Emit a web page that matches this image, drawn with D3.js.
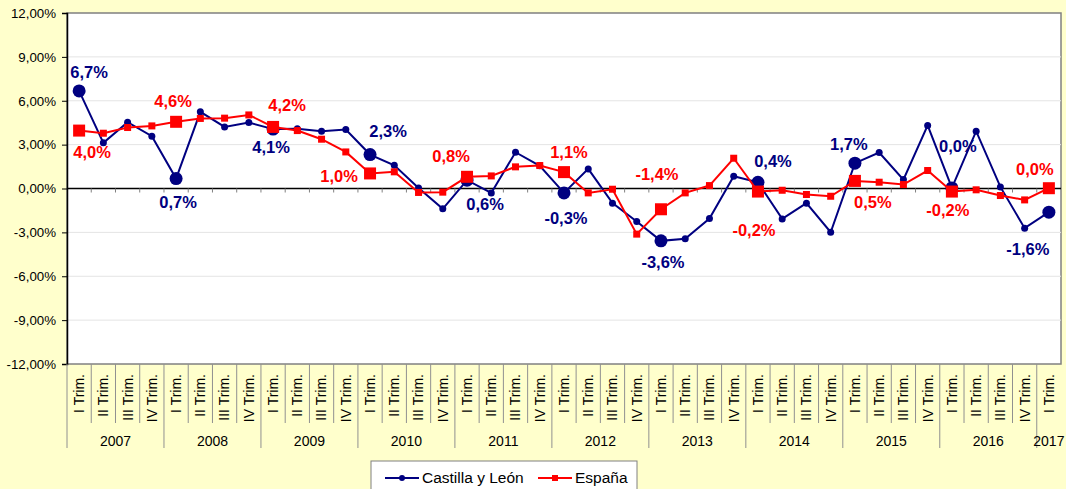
<!DOCTYPE html>
<html>
<head>
<meta charset="utf-8">
<script src="https://cdn.jsdelivr.net/npm/d3@7"></script>
<style>
  body { margin: 0; background: #FFFFCC; }
  svg { display: block; font-family: "Liberation Sans", Arial, sans-serif; }
</style>
</head>
<body>
<svg id="chart" width="1066" height="489"></svg>
<script>
// data
const years = ['2007', '2008', '2009', '2010', '2011', '2012', '2013', '2014', '2015', '2016', '2017'];
const trims = ['I Trim.', 'II Trim.', 'III Trim.', 'IV Trim.'];
const castilla = [
    6.67, 3.12, 4.53, 3.58,
    0.68, 5.24, 4.21, 4.51,
    4.06, 4.08, 3.92, 4.03,
    2.32, 1.59, 0.04, -1.39,
    0.57, -0.30, 2.48, 1.55,
    -0.30, 1.34, -1.00, -2.26,
    -3.58, -3.44, -2.05, 0.84,
    0.42, -2.08, -1.00, -2.99,
    1.73, 2.46, 0.61, 4.31,
    0.04, 3.92, 0.11, -2.71,
    -1.62
];
const espana = [
    3.96, 3.78, 4.17, 4.28,
    4.56, 4.79, 4.81, 5.03,
    4.21, 3.96, 3.37, 2.50,
    1.03, 1.14, -0.27, -0.25,
    0.80, 0.86, 1.48, 1.57,
    1.12, -0.30, -0.05, -3.12,
    -1.42, -0.30, 0.20, 2.07,
    -0.21, -0.12, -0.41, -0.53,
    0.52, 0.43, 0.27, 1.23,
    -0.21, -0.09, -0.48, -0.78,
    0.02
];
const yTicks = [-12, -9, -6, -3, 0, 3, 6, 9, 12];

// label placement (pixels from the point), one per I Trim.
const castillaLabelOffsets = [[10, -19], [2, 24], [-2, 18], [18, -23], [18, 24], [2, 25], [2, 21], [15, -21], [-6, -19], [6, -42], [-21, 37]];
const espanaLabelOffsets = [[13, 22], [-3, -21], [14, -22], [-31, 3], [-16, -21], [5, -20], [-4, -35], [-4, 39], [18, 21], [-4, 19], [-14, -19]];

const locale = d3.formatLocale({ decimal: ',', thousands: '.', grouping: [3], currency: ['', '€'], minus: '-' });
const fmtTick = locale.format('.2f');
const fmtLabel = locale.format('.1f');

const categories = castilla.map((d, i) => ({ i, year: years[Math.floor(i / 4)], trim: trims[i % 4] }));

const plot = { left: 67, right: 1061, top: 13, bottom: 364 };
const svg = d3.select('#chart');

const x = d3.scaleBand().domain(d3.range(castilla.length)).range([plot.left, plot.right]).padding(0);
const cx = i => x(i) + x.bandwidth() / 2;
const y = d3.scaleLinear().domain([-12, 12]).range([plot.bottom, plot.top]);

// plot background
svg.append('rect')
    .attr('x', plot.left).attr('y', plot.top)
    .attr('width', plot.right - plot.left).attr('height', plot.bottom - plot.top)
    .attr('fill', '#fff').attr('stroke', '#808080').attr('stroke-width', 1.5);

// gridlines
svg.append('g').selectAll('line')
    .data(yTicks.filter(d => d !== 0 && d !== 12 && d !== -12))
    .join('line')
    .attr('x1', plot.left).attr('x2', plot.right)
    .attr('y1', d => y(d)).attr('y2', d => y(d))
    .attr('stroke', '#e4e4e4').attr('stroke-width', 1);

// y axis
const yAxis = svg.append('g')
    .attr('transform', `translate(${plot.left},0)`)
    .call(d3.axisLeft(y).tickValues(yTicks).tickSize(5).tickPadding(6).tickFormat(d => fmtTick(d) + '%'));
yAxis.select('.domain').attr('stroke', '#000').attr('stroke-width', 1.5);
yAxis.selectAll('.tick line').attr('stroke', '#000');
yAxis.selectAll('text').attr('font-size', 13.3).attr('fill', '#000').attr('font-family', '"Liberation Sans", Arial, sans-serif');

// zero line with ticks at category boundaries
svg.append('line')
    .attr('x1', plot.left).attr('x2', plot.right)
    .attr('y1', y(0)).attr('y2', y(0))
    .attr('stroke', '#000').attr('stroke-width', 1.5);
svg.append('g').selectAll('line')
    .data(d3.range(1, castilla.length))
    .join('line')
    .attr('x1', i => x(i)).attr('x2', i => x(i))
    .attr('y1', y(0)).attr('y2', y(0) + 4)
    .attr('stroke', '#808080');

// category label area
svg.append('g').selectAll('line')
    .data(d3.range(0, castilla.length))
    .join('line')
    .attr('x1', i => x(i)).attr('x2', i => x(i))
    .attr('y1', plot.bottom).attr('y2', i => i % 4 === 0 ? 448 : 423)
    .attr('stroke', '#909090');

svg.append('g').selectAll('text')
    .data(categories)
    .join('text')
    .attr('transform', d => `translate(${cx(d.i)},374) rotate(-90)`)
    .attr('text-anchor', 'end')
    .attr('dy', '0.35em')
    .attr('font-size', 14)
    .text(d => d.trim);

svg.append('g').selectAll('text')
    .data(years)
    .join('text')
    .attr('x', (d, k) => {
        const first = k * 4, last = Math.min(k * 4 + 3, castilla.length - 1);
        return (x(first) + x(last) + x.bandwidth()) / 2;
    })
    .attr('y', 446)
    .attr('text-anchor', 'middle')
    .attr('font-size', 14)
    .text(d => d);

// series
const line = d3.line().x((d, i) => cx(i)).y(d => y(d));

svg.append('path').datum(castilla)
    .attr('fill', 'none').attr('stroke', '#000080').attr('stroke-width', 2).attr('d', line);
svg.append('g').selectAll('circle')
    .data(castilla)
    .join('circle')
    .attr('cx', (d, i) => cx(i)).attr('cy', d => y(d))
    .attr('r', (d, i) => i % 4 === 0 ? 6.5 : 3.5)
    .attr('fill', '#000080');

svg.append('path').datum(espana)
    .attr('fill', 'none').attr('stroke', '#ff0000').attr('stroke-width', 2).attr('d', line);
svg.append('g').selectAll('rect')
    .data(espana)
    .join('rect')
    .each(function(d, i) {
        const s = i % 4 === 0 ? 12 : 7;
        d3.select(this).attr('x', cx(i) - s / 2).attr('y', y(d) - s / 2).attr('width', s).attr('height', s);
    })
    .attr('fill', '#ff0000');

// data labels on I Trim.
function addLabels(values, offsets, color) {
    svg.append('g').selectAll('text')
        .data(values.map((v, i) => ({ v, i })).filter(d => d.i % 4 === 0))
        .join('text')
        .attr('x', (d, k) => cx(d.i) + offsets[k][0])
        .attr('y', (d, k) => y(d.v) + offsets[k][1])
        .attr('dy', '0.35em')
        .attr('text-anchor', 'middle')
        .attr('font-size', 16.5)
        .attr('font-weight', 'bold')
        .attr('fill', color)
        .text(d => fmtLabel(d.v) + '%');
}
addLabels(castilla, castillaLabelOffsets, '#000080');
addLabels(espana, espanaLabelOffsets, '#ff0000');

// legend
const legend = svg.append('g');
legend.append('rect')
    .attr('x', 371).attr('y', 461).attr('width', 266).attr('height', 40)
    .attr('fill', '#fff').attr('stroke', '#808080');
const legendItems = [
    { name: 'Castilla y León', color: '#000080', x: 385, shape: 'circle' },
    { name: 'España', color: '#ff0000', x: 538, shape: 'square' }
];
legendItems.forEach(item => {
    legend.append('line')
        .attr('x1', item.x).attr('x2', item.x + 34)
        .attr('y1', 478).attr('y2', 478)
        .attr('stroke', item.color).attr('stroke-width', 2);
    if (item.shape === 'circle') {
        legend.append('circle').attr('cx', item.x + 17).attr('cy', 478).attr('r', 3).attr('fill', item.color);
    } else {
        legend.append('rect').attr('x', item.x + 14).attr('y', 475).attr('width', 6).attr('height', 6).attr('fill', item.color);
    }
    legend.append('text')
        .attr('x', item.x + 37).attr('y', 478).attr('dy', '0.35em')
        .attr('font-size', 15.5)
        .text(item.name);
});
</script>
</body>
</html>
